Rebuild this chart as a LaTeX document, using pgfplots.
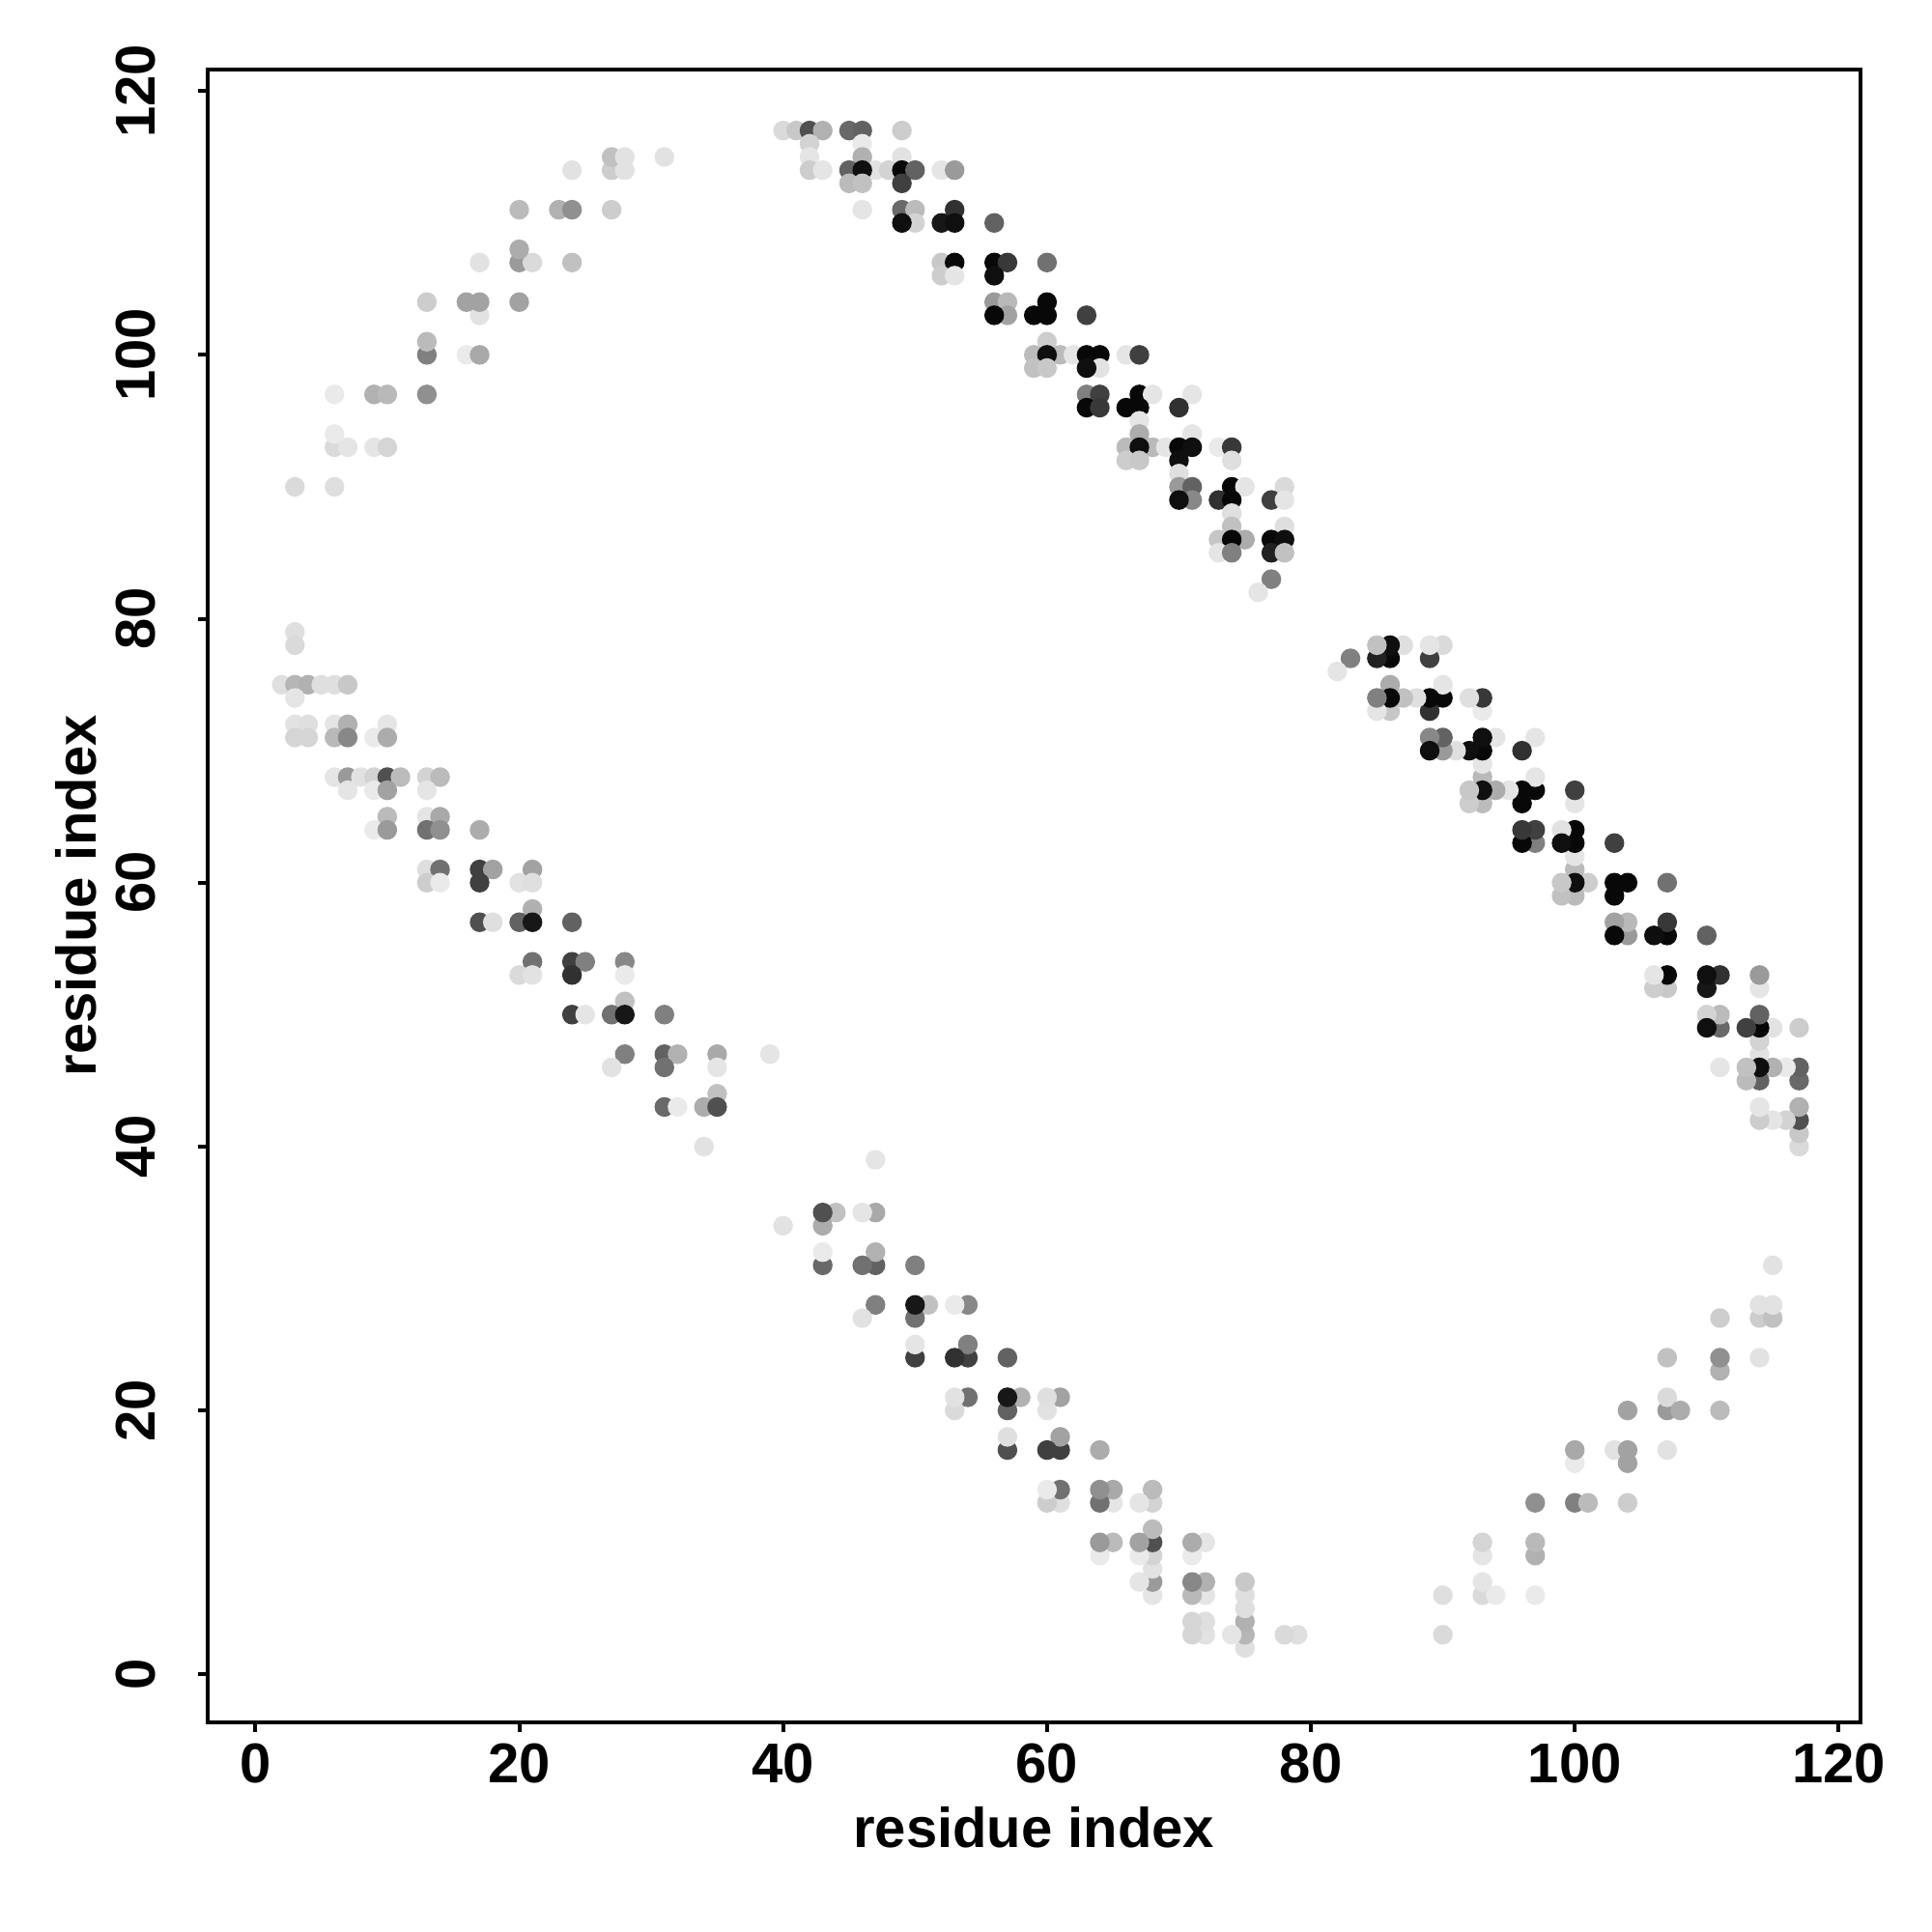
\documentclass[border=0pt]{standalone}
\usepackage{pgfplots}
\pgfplotsset{compat=1.18}
\usepackage{pgfplotstable}
\usepackage{fontspec}
\setmainfont{Liberation Sans}

% contacts of the upper triangle (i < j), g = grey level in percent (0 black, 100 white)
\pgfplotstableread{
x y g
3 90 85
6 90 87
6 93 85
7 93 89
9 93 89
10 93 83
6 94 91
6 97 91
9 97 69
10 97 72
13 97 56
13 100 50
16 100 91
17 100 66
13 101 73
17 103 88
13 104 80
16 104 63
17 104 63
20 104 63
17 107 88
20 107 60
21 107 85
24 107 75
20 108 67
20 111 73
23 111 69
24 111 56
27 111 80
24 114 88
27 114 80
28 114 88
27 115 75
28 115 88
31 115 88
40 117 85
41 117 78
42 117 31
43 117 69
45 117 41
46 117 38
49 117 80
42 116 82
46 116 91
42 115 89
46 115 69
49 115 88
42 114 80
43 114 89
45 114 38
47 114 88
48 114 82
46 114 6
49 114 3
50 114 38
52 114 89
53 114 60
45 113 73
46 113 75
49 113 25
46 111 89
49 111 41
50 111 73
53 111 19
50 110 82
49 110 6
52 110 9
53 110 6
56 110 38
52 107 78
53 107 3
56 107 3
57 107 22
60 107 44
52 106 80
53 106 89
56 106 6
56 104 60
57 104 72
60 104 3
57 103 63
56 103 3
59 103 3
60 103 3
63 103 25
60 101 80
59 100 73
61 100 73
62 100 89
60 100 6
63 100 3
64 100 3
66 100 89
67 100 25
59 99 75
60 99 78
64 99 88
63 99 6
63 97 50
64 97 25
67 97 3
68 97 89
71 97 89
63 96 3
64 96 22
66 96 3
67 96 3
70 96 19
67 95 89
67 94 67
71 94 89
66 93 73
68 93 72
69 93 89
73 93 91
67 93 6
70 93 3
71 93 6
74 93 22
66 92 80
67 92 78
70 92 6
74 92 87
70 91 87
70 90 60
71 90 38
74 90 3
75 90 89
78 90 85
71 89 53
73 89 19
70 89 6
74 89 3
77 89 25
78 89 89
74 88 87
74 87 75
78 87 87
73 86 77
75 86 67
74 86 3
77 86 3
78 86 6
73 85 89
74 85 50
77 85 13
78 85 75
77 83 50
76 82 89
3 79 87
3 78 85
2 75 87
3 75 71
4 75 69
5 75 87
6 75 87
7 75 78
3 74 89
3 72 88
4 72 87
6 72 89
7 72 69
10 72 89
3 71 83
4 71 83
6 71 72
7 71 53
9 71 91
10 71 67
6 68 89
7 68 60
8 68 88
9 68 82
10 68 31
11 68 73
13 68 82
14 68 73
7 67 89
9 67 91
10 67 63
13 67 89
10 65 73
13 65 89
14 65 66
9 64 91
10 64 60
13 64 44
14 64 56
17 64 67
13 61 87
14 61 44
17 61 25
18 61 63
21 61 63
13 60 80
14 60 91
17 60 25
20 60 88
21 60 87
21 58 69
17 57 31
18 57 87
20 57 38
21 57 9
24 57 38
21 54 44
24 54 25
25 54 50
28 54 53
20 53 85
21 53 88
24 53 19
28 53 91
28 51 75
24 50 25
25 50 89
27 50 44
28 50 9
31 50 50
28 47 50
31 47 38
32 47 69
35 47 66
39 47 89
27 46 88
31 46 44
35 46 89
35 44 75
31 43 41
32 43 91
34 43 67
35 43 31
34 40 88
}\contacts

\begin{document}
\begin{tikzpicture}
\useasboundingbox (-53.65pt,-54.25pt) rectangle (446.15pt,445.75pt);
\begin{axis}[
at={(0,0)}, anchor=south west,
scale only axis,
width=427.8pt, height=427.8pt,
xmin=-3.64, xmax=121.64,
ymin=-3.64, ymax=121.64,
xtick={0,20,...,120},
ytick={0,20,...,120},
tick pos=left,
tick align=outside,
major tick length=2.4pt,
axis line style={line width=1pt},
every tick/.style={black, line width=1pt},
/pgf/number format/assume math mode=true,
tick label style={font=\fontsize{14.5}{17}\selectfont\bfseries},
xticklabel style={anchor=north, inner sep=0pt, yshift=-3pt},
yticklabel style={rotate=90, anchor=base, inner sep=0pt},
yticklabel shift=11pt,
label style={font=\fontsize{14.5}{17}\selectfont\bfseries},
xlabel={residue index},
ylabel={residue index},
x label style={at={([yshift=-32.25pt]axis description cs:0.5,0)}, anchor=base},
y label style={at={([xshift=-28.65pt]axis description cs:0,0.5)}, anchor=base, rotate=0},
colormap={bw}{gray(0cm)=(0); gray(1cm)=(1)},
point meta min=0, point meta max=100,
]
\addplot [scatter, only marks, mark=*, mark size=2.35pt, point meta=explicit,
  scatter/use mapped color={draw=mapped color, fill=mapped color}]
  table [x=x, y=y, meta=g] {\contacts};
\addplot [scatter, only marks, mark=*, mark size=2.35pt, point meta=explicit,
  scatter/use mapped color={draw=mapped color, fill=mapped color}]
  table [x=y, y=x, meta=g] {\contacts};
\end{axis}
\end{tikzpicture}
\end{document}
